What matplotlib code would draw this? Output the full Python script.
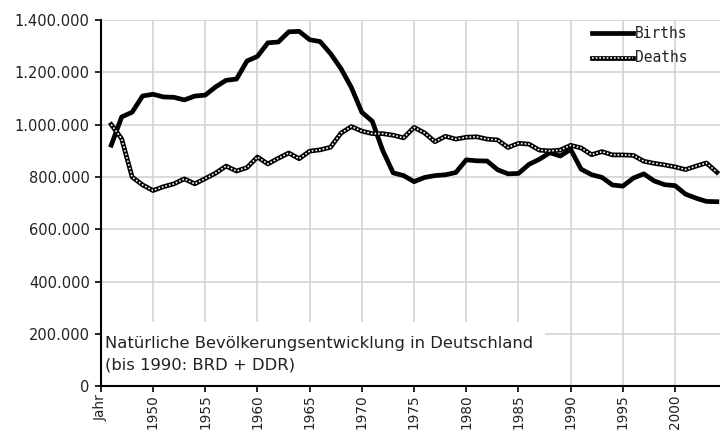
import matplotlib
matplotlib.use("Agg")
import matplotlib.pyplot as plt
from matplotlib.patches import Rectangle
from matplotlib.lines import Line2D
from matplotlib.ticker import FuncFormatter

# Natürliche Bevölkerungsentwicklung in Deutschland, 1946-2004
years = list(range(1946, 2005))
births = [922000, 1030000, 1048000, 1110000, 1116701, 1106380, 1105084, 1095029, 1109743, 1113408,
          1145000, 1170000, 1175000, 1243922, 1261614, 1313505, 1316534, 1355595, 1357304, 1325386,
          1318303, 1272276, 1214968, 1142366, 1047737, 1013396, 901657, 815969, 805500, 782310,
          798334, 805496, 808619, 817217, 865789, 862100, 861275, 827933, 812292, 813803,
          848232, 867969, 892993, 880459, 905675, 830019, 809114, 798447, 769603, 765221,
          796013, 812173, 785034, 770744, 766999, 734475, 719250, 706721, 705622]
deaths = [1001000, 946000, 800000, 770000, 748329, 763000, 774000, 793000, 774000, 794000,
          815000, 842000, 823000, 836000, 876721, 850000, 872000, 892000, 870000, 899000,
          904000, 914000, 968000, 993000, 975664, 966000, 966000, 960000, 950000, 990000,
          969000, 935000, 956000, 945000, 952371, 954000, 945000, 942000, 913000, 929000,
          926000, 903000, 900000, 903000, 921445, 911245, 885443, 897270, 884661, 884588,
          882843, 860389, 852382, 846330, 838797, 828541, 841686, 853946, 818271]

xticks = [1945, 1950, 1955, 1960, 1965, 1970, 1975, 1980, 1985, 1990, 1995, 2000]
xticklabels = ["Jahr"] + [str(y) for y in xticks[1:]]
yticks = [0, 200000, 400000, 600000, 800000, 1000000, 1200000, 1400000]

plt.rcParams["font.family"] = ["DejaVu Sans"]

fig = plt.figure(figsize=(7.2, 4.3), dpi=100)
ax = fig.add_axes([0.140, 0.102, 0.860, 0.851])

ax.set_xlim(1945, 2004.3)
ax.set_ylim(0, 1400000)
ax.set_xticks(xticks)
ax.set_xticklabels(xticklabels, rotation=90, fontsize=9.8)
ax.set_yticks(yticks)
ax.yaxis.set_major_formatter(FuncFormatter(lambda v, p: f"{int(v):,}".replace(",", ".")))
ax.tick_params(axis="y", labelsize=10.5, length=4, width=1.2, pad=4, labelcolor="#222222")
ax.tick_params(axis="x", length=4, width=1.2, pad=2, labelcolor="#222222")

ax.grid(True, color="#d0d0d0", linewidth=1.1, zorder=0)
ax.set_axisbelow(True)
for side in ["top", "right"]:
    ax.spines[side].set_visible(False)
ax.spines["left"].set_linewidth(1.5)
ax.spines["bottom"].set_linewidth(1.5)

# white box behind the caption hides the grid
ax.add_patch(Rectangle((0, 0), 0.717, 0.175, transform=ax.transAxes,
                       facecolor="white", edgecolor="none", zorder=1))
ax.text(0.0065, 0.088, "Natürliche Bevölkerungsentwicklung in Deutschland\n(bis 1990: BRD + DDR)",
        transform=ax.transAxes, fontsize=11.8, va="center", ha="left", color="#222222",
        linespacing=1.55, zorder=2)

ax.plot(years, births, color="black", linewidth=3.4, solid_joinstyle="round", zorder=3)
ax.plot(years, deaths, color="black", linewidth=3.4, solid_joinstyle="round", zorder=3)
ax.plot(years, deaths, color="white", linewidth=1.2, dashes=(1, 1.2), zorder=4)

# legend
mono = "DejaVu Sans Mono"
lx0, lx1 = 0.793, 0.859
for ly, label, style in [(0.964, "Births", "solid"), (0.897, "Deaths", "dotted")]:
    ax.add_line(Line2D([lx0, lx1], [ly, ly], transform=ax.transAxes, color="black",
                       linewidth=3.4, zorder=5))
    if style == "dotted":
        ax.add_line(Line2D([lx0, lx1], [ly, ly], transform=ax.transAxes, color="white",
                           linewidth=1.2, dashes=(1, 1.2), zorder=6))
    ax.text(lx1 + 0.003, ly, label, transform=ax.transAxes, fontsize=10.5,
            family=mono, va="center", ha="left", color="#222222", zorder=6)

fig.savefig("out.png", dpi=100)
